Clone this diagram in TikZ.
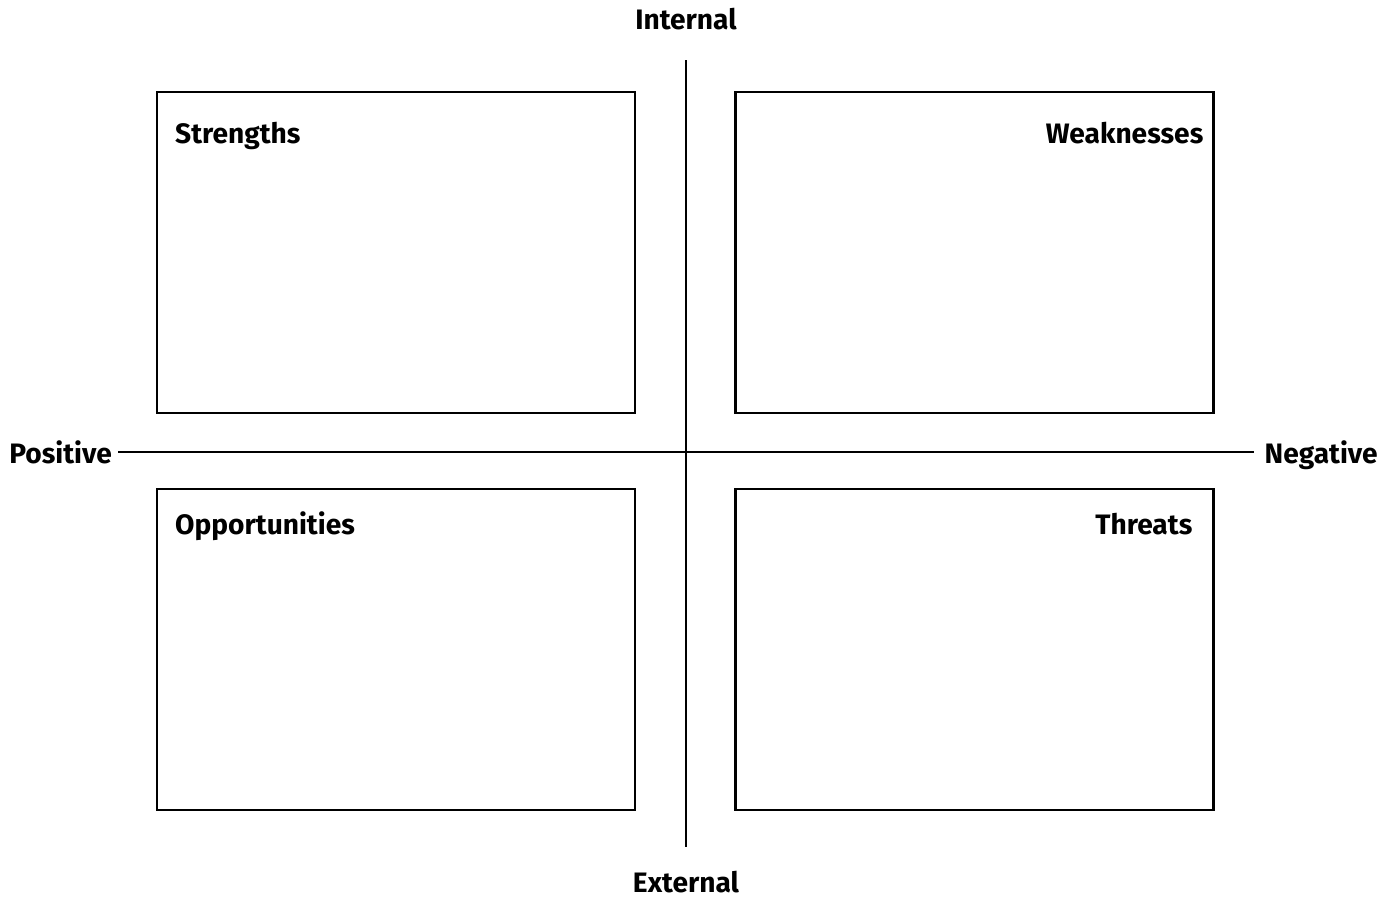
\documentclass[tikz,border=0pt]{standalone}
\usepackage{fontspec}
\setmainfont{Fira Sans}
\usetikzlibrary{positioning,calc}
\tikzset{
	frame/.style={
		rectangle, draw, line width=1.3pt,
		minimum width=9.56cm, minimum height=6.42cm,
	},
	title/.style={
		font=\fontsize{16}{19}\selectfont\bfseries, inner sep=0,
	},
	axis/.style={
		draw, line width=1.3pt,
	}
}
\begin{document}
\begin{tikzpicture}
	\useasboundingbox (0,0) rectangle (27.94,-17.98);
	% Quadrant boxes
	\node [frame] (strengths) at (7.92,-5.05) {};
	\node [frame] (weaknesses) at (19.49,-5.05) {};
	\node [frame] (opportunities) at (7.92,-12.99) {};
	\node [frame] (threats) at (19.49,-12.99) {};
	% Box titles
	\node [title, anchor=base west] at ($(strengths.north west)+(0.38,-1.06)$) {Strengths};
	\node [title, anchor=base east] at ($(weaknesses.north east)+(-0.22,-1.06)$) {Weaknesses};
	\node [title, anchor=base west] at ($(opportunities.north west)+(0.38,-0.94)$) {Opportunities};
	\node [title, anchor=base east] at ($(threats.north east)+(-0.44,-0.94)$) {Threats};
	% Axis labels
	\node [title, anchor=base] (internal) at (13.72,-0.58) {Internal};
	\node [title, anchor=base] (external) at (13.72,-17.84) {External};
	\node [title, anchor=base west] (positive) at (0.18,-9.26) {Positive};
	\node [title, anchor=base east] (negative) at (27.56,-9.26) {Negative};
	% Axis lines
	\coordinate (top) at (13.72,-1.2);
	\coordinate (bottom) at (13.72,-16.94);
	\coordinate (left) at (2.36,-9.04);
	\coordinate (right) at (25.08,-9.04);
	\draw [axis] (top) -- (bottom);
	\draw [axis] (left) -- (right);
\end{tikzpicture}
\end{document}
